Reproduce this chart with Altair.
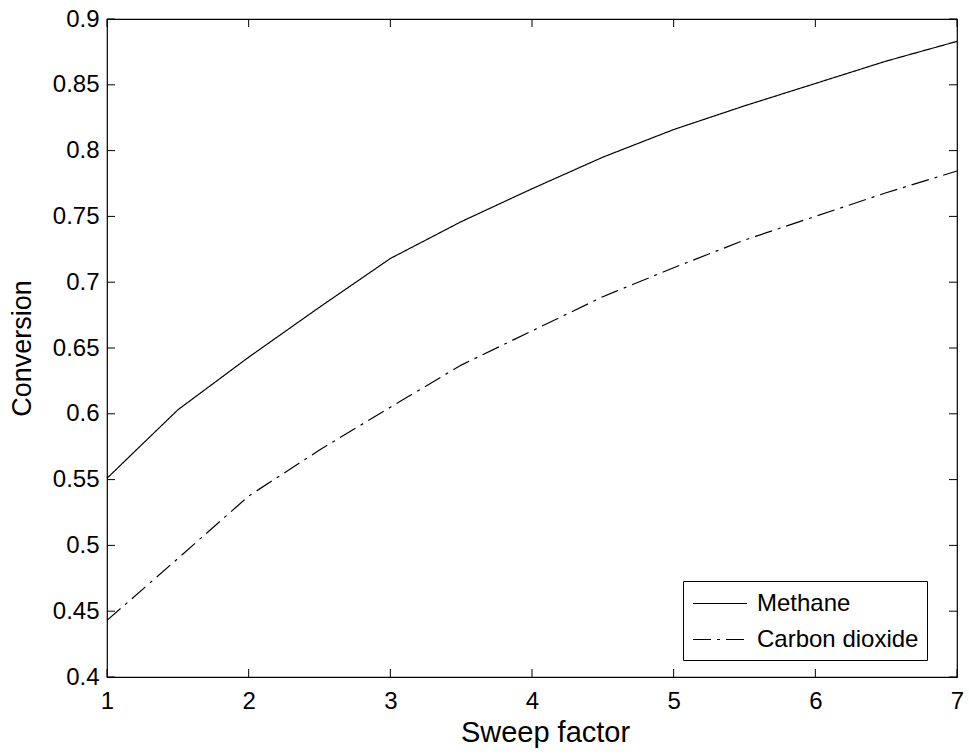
import altair as alt
import pandas as pd

sweep = [1, 1.5, 2, 2.5, 3, 3.5, 4, 4.5, 5, 5.5, 6, 6.5, 7]
methane = [0.551, 0.603, 0.643, 0.681, 0.718, 0.746, 0.771, 0.795, 0.816, 0.834, 0.851, 0.868, 0.883]
co2 = [0.443, 0.490, 0.5375, 0.5725, 0.605, 0.637, 0.663, 0.689, 0.711, 0.732, 0.750, 0.768, 0.7845]
series_names = ["Methane", "Carbon dioxide"]
x_ticks = [1, 2, 3, 4, 5, 6, 7]
y_ticks = [0.4, 0.45, 0.5, 0.55, 0.6, 0.65, 0.7, 0.75, 0.8, 0.85, 0.9]

rows = []
for name, vals in zip(series_names, [methane, co2]):
    for s, v in zip(sweep, vals):
        rows.append({"x": s, "value": v, "series": name})
df = pd.DataFrame(rows)
xt = pd.DataFrame({"x": x_ticks})
yt = pd.DataFrame({"value": y_ticks})

W, H = 850, 658
FONT = "Liberation Sans"
TL = 8

xs = alt.Scale(domain=[1, 7], nice=False, zero=False)
ys = alt.Scale(domain=[0.4, 0.9], nice=False, zero=False)

lines = alt.Chart(df).mark_line(strokeWidth=1.2, color="black").encode(
    x=alt.X("x:Q", scale=xs, axis=alt.Axis(values=x_ticks, title="Sweep factor", ticks=False, domain=False,
                                           grid=False, labelPadding=12, titlePadding=5, format="~g",
                                           labelFlush=False, titleFontSize=29, titleX=438)),
    y=alt.Y("value:Q", scale=ys, axis=alt.Axis(values=y_ticks, title="Conversion", ticks=False, domain=False,
                                               grid=False, labelPadding=8, titlePadding=16, format="~g",
                                               labelFlush=False)),
    strokeDash=alt.StrokeDash(
        "series:N",
        scale=alt.Scale(domain=series_names, range=[[1, 0], [18, 6, 3, 6]]),
        legend=alt.Legend(title=None, orient="none", legendX=576, legendY=562,
                          strokeColor="black", fillColor="white", padding=8,
                          symbolType="M-2,0H2", symbolSize=729, symbolStrokeWidth=1.2,
                          symbolStrokeColor="black", symbolFillColor="transparent",
                          symbolOffset=14.5, labelOffset=22.5, rowPadding=9,
                          labelLimit=400,
                          labelFont=FONT, labelFontSize=24, labelColor="black"),
    ),
)

bottom_ticks = alt.Chart(xt).mark_rule(color="black").encode(
    x=alt.X("x:Q", scale=xs), y=alt.value(H - TL), y2=alt.value(H))
top_ticks = alt.Chart(xt).mark_rule(color="black").encode(
    x=alt.X("x:Q", scale=xs), y=alt.value(0), y2=alt.value(TL))
left_ticks = alt.Chart(yt).mark_rule(color="black").encode(
    y=alt.Y("value:Q", scale=ys), x=alt.value(0), x2=alt.value(TL))
right_ticks = alt.Chart(yt).mark_rule(color="black").encode(
    y=alt.Y("value:Q", scale=ys), x=alt.value(W - TL), x2=alt.value(W))

chart = alt.layer(lines, bottom_ticks, top_ticks, left_ticks, right_ticks).properties(
    width=W, height=H,
    autosize=alt.AutoSizeParams(type="none"),
    padding={"left": 107, "top": 19, "right": 12, "bottom": 77},
    background="white",
).configure_view(stroke="black", strokeWidth=1.2).configure_axis(
    labelFont=FONT, labelFontSize=24, labelColor="black",
    titleFont=FONT, titleFontSize=27, titleColor="black", titleFontWeight="normal",
)

chart.save("out.html", embed_options={"renderer": "svg", "actions": False})
